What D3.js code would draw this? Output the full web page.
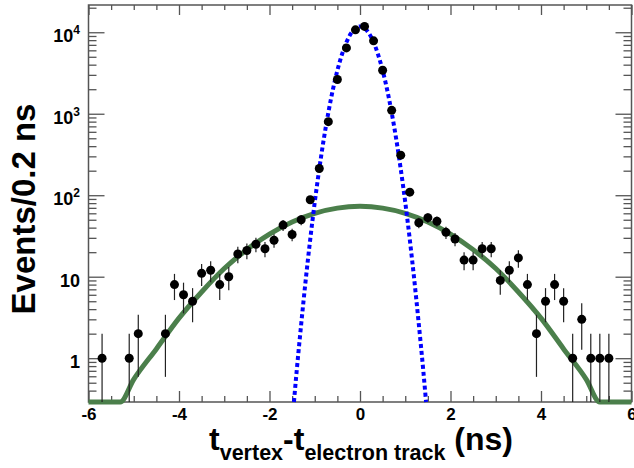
<!DOCTYPE html>
<html>
<head>
<meta charset="utf-8">
<script src="https://cdn.jsdelivr.net/npm/d3@7"></script>
<style>
  body { margin: 0; background: #fff; }
  svg { display: block; font-family: "Liberation Sans", Arial, Helvetica, sans-serif; font-weight: bold; }
</style>
</head>
<body>
<svg id="chart" width="634" height="468"></svg>
<script>
// bin centres (ns) and counts per 0.2 ns
const binCenters = [-5.7, -5.1, -4.9, -4.3, -4.1, -3.9, -3.7, -3.5, -3.3, -3.1, -2.9, -2.7, -2.5, -2.3, -2.1,
    -1.9, -1.7, -1.5, -1.3, -1.1, -0.9, -0.7, -0.5, -0.3, -0.1, 0.1, 0.3, 0.5, 0.7, 0.9, 1.1, 1.3, 1.5, 1.7, 1.9,
    2.1, 2.3, 2.5, 2.7, 2.9, 3.1, 3.3, 3.5, 3.7, 3.9, 4.1, 4.3, 4.5, 4.7, 4.9, 5.1, 5.3, 5.5];
const counts = [1, 1, 2, 2, 8, 6, 5, 11, 12, 8, 10, 19, 21, 25, 22,
    28, 43, 33, 50, 88, 213, 800, 2630, 6430, 10700, 11800, 7840, 3420, 1100, 310, 109, 46, 53, 48, 35,
    29, 16, 16, 22, 22, 9, 12, 17, 8, 2, 5, 8, 5, 1, 3, 1, 1, 1];
const errors = [1, 1, 1.41, 1.41, 2.83, 2.45, 2.24, 3.32, 3.46, 2.83, 3.16, 4.36, 4.58, 5, 4.69,
    5.29, 6.56, 5.74, 7.07, 9.38, 14.6, 28.3, 51.3, 80.2, 103, 109, 88.5, 58.5, 33.2, 17.6, 10.4, 6.78, 7.28, 6.93, 5.92,
    5.39, 4, 4, 4.69, 4.69, 3, 3.46, 4.12, 2.83, 1.41, 2.24, 2.83, 2.24, 1, 1.73, 1, 1, 1];

// wide (green) fit curve
const wideX = [-6, -5.3, -5, -4.5, -4, -3.5, -3, -2.5, -2, -1.5, -1, -0.5, 0,
    0.5, 1, 1.5, 2, 2.5, 3, 3.5, 4, 4.5, 5, 5.3, 6];
const wideY = [0.29, 0.29, 0.55, 1.3, 3.1, 6.5, 12.6, 21.5, 33.4, 47, 60, 69.5, 73,
    69.5, 60, 47, 33.4, 21.5, 12.6, 6.5, 3.1, 1.3, 0.55, 0.29, 0.29];

// narrow (blue dotted) fit curve
const narrowX = [-1.46, -1.4, -1.3, -1.2, -1.1, -1, -0.9, -0.8, -0.7, -0.6, -0.5, -0.4, -0.3, -0.2, -0.1, 0,
    0.1, 0.2, 0.3, 0.4, 0.5, 0.6, 0.7, 0.8, 0.9, 1, 1.1, 1.2, 1.3, 1.4, 1.46];
const narrowY = [0.29, 0.69, 2.6, 9.1, 28.7, 82, 210, 490, 1030, 1970, 3400, 5320, 7540, 9670, 11230, 11800,
    11230, 9670, 7540, 5320, 3400, 1970, 1030, 490, 210, 82, 28.7, 9.1, 2.6, 0.69, 0.29];

const xMajorTicks = [-6, -4, -2, 0, 2, 4, 6];
const xTickLabels = ["-6", "-4", "-2", "0", "2", "4", "6"];
const yDecades = [1, 10, 100, 1000, 10000];
const yTickBase = ["1", "10", "10", "10", "10"];
const yTickExp = ["", "", "2", "3", "4"];

const svg = d3.select("#chart");
const plotL = 88.5, plotR = 631.5, plotT = 5, plotB = 402;

const x = d3.scaleLinear().domain([-6, 6]).range([plotL, plotR]);
const y = d3.scaleLog().domain([0.29, 21600]).range([plotB, plotT]);

const axisColor = "#555";

// minor ticks
const xMinor = d3.range(-6, 6.01, 0.5).filter(v => !xMajorTicks.includes(v));
const yMinor = y.ticks().filter(v => !yDecades.includes(v));

function styleAxis(g) {
    g.select(".domain").remove();
    g.selectAll(".tick line").attr("stroke", axisColor).attr("stroke-width", 1.3);
}

svg.append("g").attr("transform", `translate(0,${plotB})`)
    .call(d3.axisBottom(x).tickValues(xMinor).tickSize(-6).tickFormat(""))
    .call(styleAxis);
svg.append("g").attr("transform", `translate(0,${plotT})`)
    .call(d3.axisTop(x).tickValues(xMinor).tickSize(-5).tickFormat(""))
    .call(styleAxis);
svg.append("g").attr("transform", `translate(0,${plotT})`)
    .call(d3.axisTop(x).tickValues(xMajorTicks).tickSize(-10).tickFormat(""))
    .call(styleAxis);

const xAxisMajor = svg.append("g").attr("transform", `translate(0,${plotB})`)
    .call(d3.axisBottom(x).tickValues(xMajorTicks).tickSize(-11).tickPadding(6)
        .tickFormat((d, i) => xTickLabels[i]))
    .call(styleAxis);
xAxisMajor.selectAll("text")
    .attr("fill", "#000").attr("font-size", 17).attr("font-weight", "bold")
    .attr("font-family", "Liberation Sans, Arial, sans-serif");

[["axisLeft", plotL], ["axisRight", plotR]].forEach(([ax, pos]) => {
    svg.append("g").attr("transform", `translate(${pos},0)`)
        .call(d3[ax](y).tickValues(yMinor).tickSize(-8).tickFormat(""))
        .call(styleAxis);
    svg.append("g").attr("transform", `translate(${pos},0)`)
        .call(d3[ax](y).tickValues(yDecades).tickSize(-16).tickFormat(""))
        .call(styleAxis);
});

// y tick labels (10^n)
const yLab = svg.append("g").selectAll("text")
    .data(yDecades)
    .enter().append("text")
    .attr("x", 80)
    .attr("y", d => y(d) + 10)
    .attr("text-anchor", "end")
    .attr("font-size", 18)
    .attr("fill", "#000");
yLab.append("tspan").text((d, i) => yTickBase[i]);
yLab.append("tspan")
    .attr("font-size", 12)
    .attr("dy", -8)
    .text((d, i) => yTickExp[i]);

// frame
svg.append("rect")
    .attr("x", plotL).attr("y", plotT)
    .attr("width", plotR - plotL).attr("height", plotB - plotT)
    .attr("fill", "none").attr("stroke", axisColor).attr("stroke-width", 1.5);

// fit curves
const line = d3.line()
    .x(d => x(d[0]))
    .y(d => y(d[1]))
    .curve(d3.curveMonotoneX);

svg.append("path")
    .datum(wideX.map((v, i) => [v, wideY[i]]))
    .attr("d", line)
    .attr("fill", "none")
    .attr("stroke", "#4b7f4b")
    .attr("stroke-width", 5)
    .attr("stroke-linejoin", "round");

svg.append("path")
    .datum(narrowX.map((v, i) => [v, narrowY[i]]))
    .attr("d", line)
    .attr("fill", "none")
    .attr("stroke", "#0000ff")
    .attr("stroke-width", 4)
    .attr("stroke-dasharray", "4,3");

// data points with error bars
const pts = binCenters.map((c, i) => ({ x: c, n: counts[i], e: errors[i] }));

svg.selectAll(".err")
    .data(pts)
    .enter().append("line")
    .attr("class", "err")
    .attr("x1", d => x(d.x))
    .attr("x2", d => x(d.x))
    .attr("y1", d => y(Math.max(d.n - d.e, 0.29)))
    .attr("y2", d => y(d.n + d.e))
    .attr("stroke", "#222")
    .attr("stroke-width", 1.2);

svg.selectAll(".pt")
    .data(pts)
    .enter().append("circle")
    .attr("class", "pt")
    .attr("cx", d => x(d.x))
    .attr("cy", d => y(d.n))
    .attr("r", 4.5)
    .attr("fill", "#000");

// axis titles
const xt = svg.append("text")
    .attr("x", (plotL + plotR) / 2 + 1)
    .attr("y", 450)
    .attr("text-anchor", "middle")
    .attr("font-size", 32)
    .attr("fill", "#000");
xt.append("tspan").text("t");
xt.append("tspan").attr("font-size", 21.5).attr("dy", 10).text("vertex");
xt.append("tspan").attr("dy", -10).text("-t");
xt.append("tspan").attr("font-size", 21.5).attr("dy", 10).text("electron track");
xt.append("tspan").attr("dy", -10).text(" (ns)");

svg.append("text")
    .attr("transform", "translate(35,209) rotate(-90)")
    .attr("text-anchor", "middle")
    .attr("font-size", 33)
    .attr("fill", "#000")
    .text("Events/0.2 ns");
</script>
</body>
</html>
